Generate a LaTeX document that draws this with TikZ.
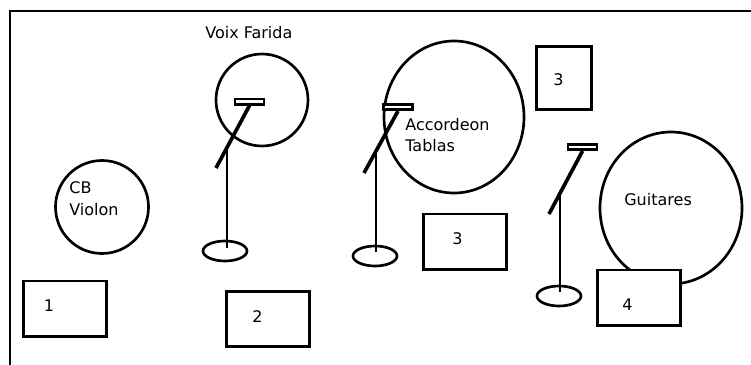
\documentclass[tikz,border=0pt]{standalone}
\usepackage{fontspec}
\setmainfont{DejaVu Sans}
\usetikzlibrary{shapes.geometric}
\begin{document}
\begin{tikzpicture}[x=0.03cm,y=-0.03cm,
  line width=0.08cm,
  lbl/.style={anchor=base west, inner sep=0pt, font=\fontsize{13.66pt}{16pt}\selectfont},
  num/.style={anchor=base, inner sep=0pt, font=\fontsize{13.66pt}{16pt}\selectfont},
  zone/.style={draw, ellipse, inner sep=0pt},
  stagebox/.style={draw, rectangle, inner sep=0pt, minimum width=2.48cm, minimum height=1.66cm},
  michead/.style={draw, fill=white, rectangle, inner sep=0pt, minimum width=0.87cm, minimum height=0.16cm},
  micbase/.style={draw, ellipse, inner sep=0pt, minimum width=1.32cm, minimum height=0.6cm},
  boom/.style={line width=0.11cm},
  stand/.style={line width=0.08cm}]
\useasboundingbox (0,0) rectangle (751,365);
% frame
\draw (10,365) -- (10,11) -- (751,11);
% zones
\node[zone, minimum width=2.76cm, minimum height=2.76cm] (farida) at (262,100) {};
\node[zone, minimum width=2.79cm, minimum height=2.79cm] (cb) at (102,207) {};
\node[zone, minimum width=4.2cm, minimum height=4.56cm] (acc) at (454,117) {};
\node[zone, minimum width=4.26cm, minimum height=4.56cm] (guit) at (671,208) {};
% boxes
\node[stagebox] (box1) at (65,308.5) {};
\node[stagebox] (box2) at (268,319) {};
\node[stagebox, minimum width=1.65cm, minimum height=1.89cm] (box3a) at (564,78) {};
\node[stagebox] (box3b) at (465,241.5) {};
\node[stagebox, fill=white] (box4) at (639,297.5) {};
% microphone 1
\coordinate (e1) at (216,168);
\coordinate (s1) at (227,150);
\coordinate (t1) at (227,248);
\node[micbase] (b1) at (225,251) {};
\draw[stand] (s1) -- (t1);
\node[michead] (h1) at (249.5,101.5) {};
\draw[boom] (h1.south) -- (e1);
% microphone 2
\coordinate (e2) at (364,173);
\coordinate (s2) at (376,150);
\coordinate (t2) at (376,252);
\node[micbase] (b2) at (375,256) {};
\draw[stand] (s2) -- (t2);
\node[michead] (h2) at (398,107) {};
\draw[boom] (h2.south) -- (e2);
% microphone 3
\coordinate (e3) at (549,214);
\coordinate (s3) at (560,190);
\coordinate (t3) at (560,292);
\node[micbase] (b3) at (559,296) {};
\draw[stand] (s3) -- (t3);
\node[michead] (h3) at (582.5,147) {};
\draw[boom] (h3.south) -- (e3);
% labels
\node[lbl] (tfarida) at (204,38) {Voix Farida};
\node[lbl] (tcb) at (68,193) {CB};
\node[lbl] (tviolon) at (68,215) {Violon};
\node[lbl] (tacc) at (404,130) {Accordeon};
\node[lbl] (ttablas) at (404,151) {Tablas};
\node[lbl] (tguit) at (623,205) {Guitares};
\node[num] (n1) at (49,311) {1};
\node[num] (n2) at (257.5,322) {2};
\node[num] (n3a) at (558.5,85) {3};
\node[num] (n3b) at (457.5,244) {3};
\node[num] (n4) at (627.5,310) {4};
\end{tikzpicture}
\end{document}
